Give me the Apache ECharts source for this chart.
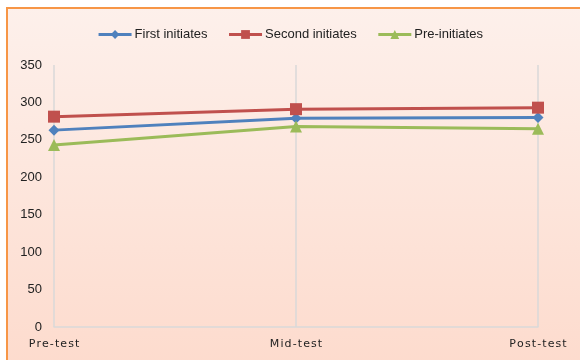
<!DOCTYPE html>
<html><head><meta charset="utf-8">
<script src="https://cdn.jsdelivr.net/npm/echarts@6/dist/echarts.min.js"></script>
<style>html,body{margin:0;padding:0;background:#fff}#c{width:580px;height:360px}</style>
</head><body><div id="c"></div>
<script>
const categories = ['Pre-test', 'Mid-test', 'Post-test'];
const firstInitiates = [263, 279, 280];
const secondInitiates = [281, 291, 293];
const preInitiates = [243, 268, 265];
const yTicks = [0, 50, 100, 150, 200, 250, 300, 350];

const chart = echarts.init(document.getElementById('c'), null, {renderer: 'canvas'});
const mk = (name, data, color, symbol, size) => ({
  name, type: 'line', data, symbol, symbolSize: size,
  itemStyle: {color}, lineStyle: {color, width: 3}, z: 3
});
chart.setOption({
  animation: false,
  graphic: [{
    type: 'rect', z: -10, silent: true,
    shape: {x: 7, y: 8, width: 580, height: 360},
    style: {
      fill: new echarts.graphic.LinearGradient(0, 0, 0, 1, [
        {offset: 0, color: '#fdf0eb'}, {offset: 1, color: '#fddbcd'}
      ]),
      stroke: '#f79646', lineWidth: 2
    }
  }],
  legend: {
    top: 23, left: 'center', itemGap: 20, itemWidth: 33, itemHeight: 11,
    lineStyle: {width: 3},
    textStyle: {fontFamily: 'Liberation Sans', fontSize: 13, color: '#222', padding: [0, 0, 0, -2]},
    data: ['First initiates', 'Second initiates', 'Pre-initiates']
  },
  grid: {left: 54, right: 42, top: 65, bottom: 33, containLabel: false},
  xAxis: {
    type: 'category', data: categories, boundaryGap: false,
    axisLine: {show: true, lineStyle: {color: '#d9d9d9', width: 1.5}},
    axisTick: {show: false},
    splitLine: {show: true, lineStyle: {color: '#d9d9d9', width: 1.5}},
    axisLabel: {fontFamily: 'DejaVu Sans', fontSize: 11, color: '#222', margin: 12,
      formatter: v => v.split('').join('\u200A')}
  },
  yAxis: {
    type: 'value', min: 0, max: 350, interval: 50,
    axisLine: {show: false}, axisTick: {show: false}, splitLine: {show: false},
    axisLabel: {fontFamily: 'Liberation Sans', fontSize: 13, color: '#222', margin: 12,
      formatter: v => yTicks.includes(v) ? String(v) : ''}
  },
  series: [
    mk('First initiates', firstInitiates, '#4f81bd', 'diamond', 11),
    mk('Second initiates', secondInitiates, '#c0504d', 'rect', 12),
    mk('Pre-initiates', preInitiates, '#9bbb59', 'triangle', 12)
  ]
});
</script></body></html>
